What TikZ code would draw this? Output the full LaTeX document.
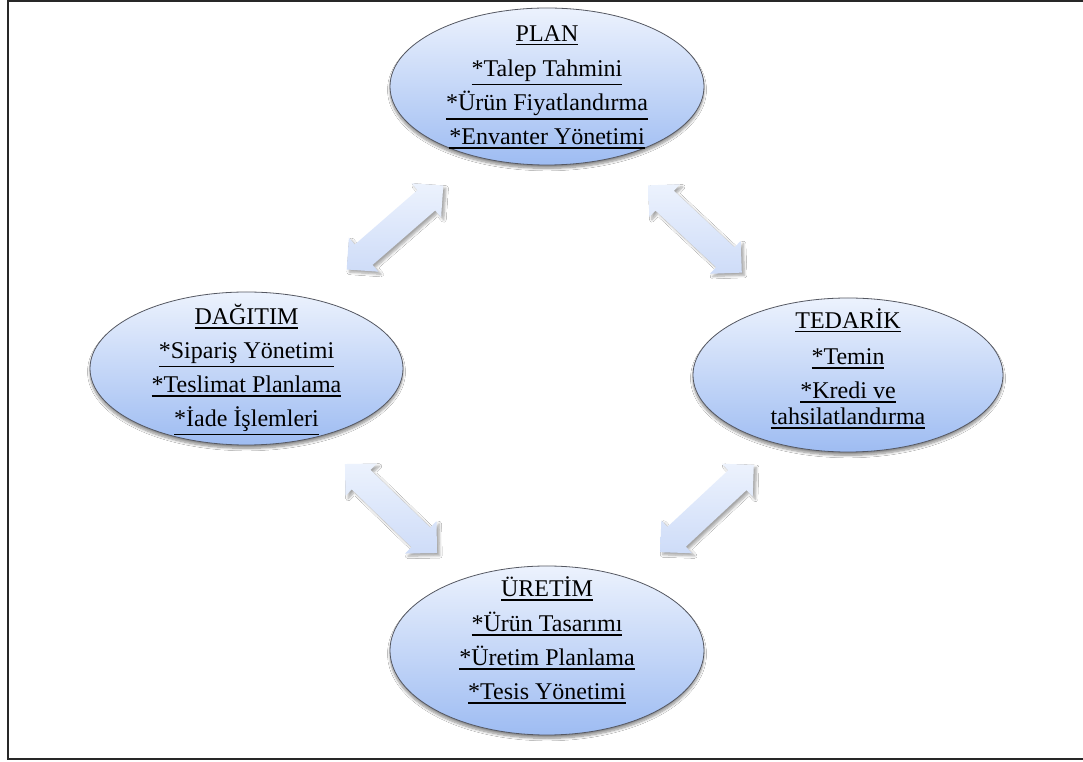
\documentclass[tikz,border=0pt]{standalone}
\usepackage{fontspec}
\setmainfont{Liberation Serif}
\usetikzlibrary{shapes.geometric,shadows.blur}

\definecolor{ovaltop}{RGB}{236,242,253}
\definecolor{ovalbot}{RGB}{158,188,242}
\definecolor{ovaledge}{RGB}{85,88,98}
\definecolor{arrtop}{RGB}{236,242,253}
\definecolor{arrbot}{RGB}{206,220,248}
\definecolor{framec}{RGB}{40,40,40}

% underline placed just below the text's own depth
\newsavebox\ulinebox
\newcommand\uline[1]{\sbox\ulinebox{#1}%
  \rlap{\rule[\dimexpr-\dp\ulinebox-2.5pt\relax]{\wd\ulinebox}{1.3pt}}\usebox\ulinebox}

\tikzset{
  oval/.style={ellipse, draw=ovaledge, line width=0.6pt,
    top color=ovaltop, bottom color=ovalbot, inner sep=0pt,
    blur shadow={shadow xshift=0pt, shadow yshift=-2.5pt,
      shadow blur steps=8, shadow opacity=45}},
  txt/.style={anchor=base, inner sep=0pt, font=\fontsize{18}{22}\selectfont},
  pics/dblarrow/.style={code={
    \shade[top color=arrtop, bottom color=arrbot,
      blur shadow={shadow xshift=2pt, shadow yshift=-2pt,
        shadow blur steps=6, shadow opacity=35}]
      (-64,0) -- (-41.5,22.5) -- (-41.5,13.5) -- (41.5,13.5) -- (41.5,22.5)
      -- (64,0) -- (41.5,-22.5) -- (41.5,-13.5) -- (-41.5,-13.5)
      -- (-41.5,-22.5) -- cycle;
  }}
}

\begin{document}
\begin{tikzpicture}[x=0.75pt, y=-0.75pt]
  \useasboundingbox (0,0) rectangle (1083,762);
  \fill[white] (0,0) rectangle (1083,762);

  % outer frame
  \draw[framec, line width=1.5pt] (7.5,1.5) rectangle (1095,759.5);

  % the four process ovals
  \node[oval, minimum width=235.5pt, minimum height=117.75pt] (plan) at (547,86.5) {};
  \node[oval, minimum width=234.75pt, minimum height=114.75pt] (dagitim) at (246.5,368.5) {};
  \node[oval, minimum width=232.5pt, minimum height=115.5pt] (tedarik) at (848,375) {};
  \node[oval, minimum width=235.5pt, minimum height=126.75pt] (uretim) at (547,650.5) {};

  % PLAN
  \node[txt] (p0) at (547,42)  {\uline{PLAN}};
  \node[txt] (p1) at (547,77)  {\uline{*Talep Tahmini}};
  \node[txt] (p2) at (547,111) {\uline{*Ürün Fiyatlandırma}};
  \node[txt] (p3) at (547,145) {\uline{*Envanter Yönetimi}};

  % DAĞITIM
  \node[txt] (d0) at (246.5,325) {\uline{DAĞITIM}};
  \node[txt] (d1) at (246.5,359) {\uline{*Sipariş Yönetimi}};
  \node[txt] (d2) at (246.5,393) {\uline{*Teslimat Planlama}};
  \node[txt] (d3) at (246.5,427) {\uline{*İade İşlemleri}};

  % TEDARİK
  \node[txt] (t0) at (848,329) {\uline{TEDARİK}};
  \node[txt] (t1) at (848,365) {\uline{*Temin}};
  \node[txt] (t2) at (848,399) {\uline{*Kredi ve}};
  \node[txt] (t3) at (848,425) {\uline{tahsilatlandırma}};

  % ÜRETİM
  \node[txt] (u0) at (547,597) {\uline{ÜRETİM}};
  \node[txt] (u1) at (547,632) {\uline{*Ürün Tasarımı}};
  \node[txt] (u2) at (547,666) {\uline{*Üretim Planlama}};
  \node[txt] (u3) at (547,700) {\uline{*Tesis Yönetimi}};

  % two-way block arrows between the ovals
  \coordinate (aPD) at (395,227.5);
  \coordinate (aPT) at (695,229);
  \coordinate (aDU) at (391,508.5);
  \coordinate (aTU) at (707,508.5);
  \pic[rotate=41]  at (aPD) {dblarrow};
  \pic[rotate=-43] at (aPT) {dblarrow};
  \pic[rotate=-44] at (aDU) {dblarrow};
  \pic[rotate=43]  at (aTU) {dblarrow};
\end{tikzpicture}
\end{document}
